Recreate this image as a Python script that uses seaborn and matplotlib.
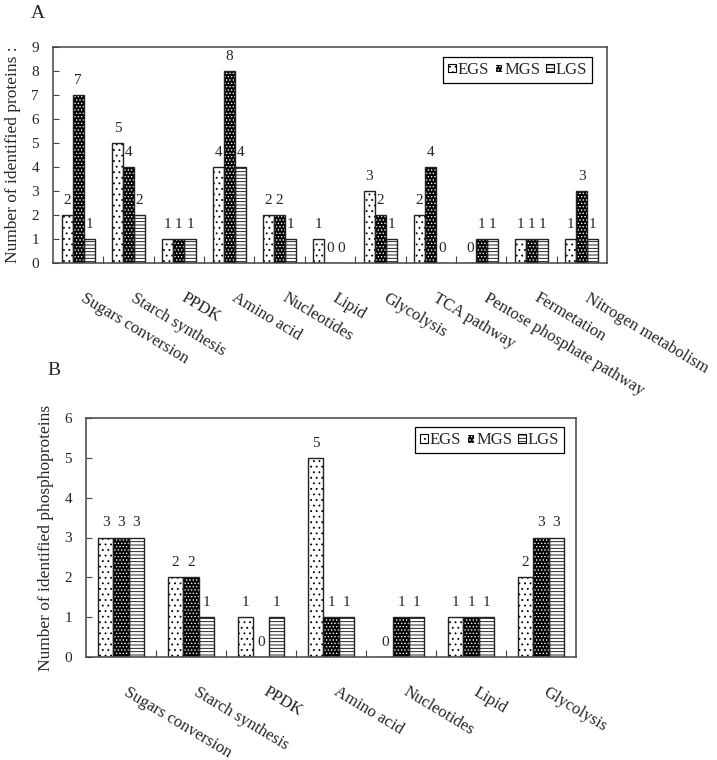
import matplotlib
matplotlib.use('Agg')
import matplotlib.pyplot as plt
import seaborn as sns
import pandas as pd
from matplotlib.patches import Patch, Rectangle
from matplotlib.transforms import ScaledTranslation

stages = ['EGS', 'MGS', 'LGS']

cats_a = ['Sugars conversion', 'Starch synthesis', 'PPDK', 'Amino acid', 'Nucleotides',
          'Lipid', 'Glycolysis', 'TCA pathway', 'Pentose phosphate pathway',
          'Fermetation', 'Nitrogen metabolism']
egs_a = [2, 5, 1, 4, 2, 1, 3, 2, 0, 1, 1]
mgs_a = [7, 4, 1, 8, 2, 0, 2, 4, 1, 1, 3]
lgs_a = [1, 2, 1, 4, 1, 0, 1, 0, 1, 1, 1]
yticks_a = [0, 1, 2, 3, 4, 5, 6, 7, 8, 9]
ylabel_a = 'Number of identified proteins :'

cats_b = ['Sugars conversion', 'Starch synthesis', 'PPDK', 'Amino acid', 'Nucleotides',
          'Lipid', 'Glycolysis']
egs_b = [3, 2, 1, 5, 0, 1, 2]
mgs_b = [3, 2, 0, 1, 1, 1, 3]
lgs_b = [3, 1, 1, 1, 1, 1, 3]
yticks_b = [0, 1, 2, 3, 4, 5, 6]
ylabel_b = 'Number of identified phosphoproteins'

sns.set_theme(style='white')
plt.rcParams['font.family'] = ['Liberation Serif', 'DejaVu Serif']
plt.rcParams['hatch.linewidth'] = 0.6

SPINE = '#444444'
STYLE = {
    'EGS': dict(face='white', hatch='...', hcol='black'),
    'MGS': dict(face='black', hatch='.....', hcol='white'),
    'LGS': dict(face='white', hatch='-----', hcol='black'),
}

fig = plt.figure(figsize=(7.17, 7.6), dpi=100)
ax_a = fig.add_axes([53 / 717, 1 - 263 / 760, 554 / 717, 216 / 760])
ax_b = fig.add_axes([86 / 717, 1 - 657 / 760, 490 / 717, 239 / 760])


def panel(ax, cats, e, m, l, yticks, ylabel, ylab_x, leg_anchor):
    n = len(cats)
    df = pd.DataFrame({
        'cat': cats * 3,
        'stage': [s for s in stages for _ in cats],
        'val': e + m + l,
    })
    sns.barplot(data=df, x='cat', y='val', hue='stage', hue_order=stages, order=cats,
                width=0.66, ax=ax, legend=False, errorbar=None, saturation=1, gap=0)
    for cont, st in zip(ax.containers, stages):
        s = STYLE[st]
        for bar in cont:
            bar.set_facecolor(s['face'])
            bar.set_edgecolor(s['hcol'])
            bar.set_hatch(s['hatch'])
            bar.set_linewidth(0)
            ax.add_patch(Rectangle(bar.get_xy(), bar.get_width(), bar.get_height(),
                                   fill=False, edgecolor='#222222', lw=1.0, zorder=bar.get_zorder() + 0.1))
        ax.bar_label(cont, fmt='%g', padding=6, fontsize=11)
    ax.set_ylim(yticks[0], yticks[-1])
    ax.set_yticks(yticks)
    ax.set_xlim(-0.5, n - 0.5)
    ax.set_xticks(range(n))
    ax.set_xticklabels([''] * n)
    off = ScaledTranslation(8 / 100, -27 / 100, fig.dpi_scale_trans)
    for i, c in enumerate(cats):
        ax.text(i, 0, c, transform=ax.get_xaxis_transform() + off, rotation=-31,
                ha='left', va='top', rotation_mode='anchor', fontsize=12)
    ax.set_xticks([i + 0.5 for i in range(n - 1)], minor=True)
    ax.tick_params(axis='x', which='major', length=0)
    ax.tick_params(axis='x', which='minor', direction='in', length=5, width=0.8, color=SPINE, bottom=True)
    ax.tick_params(axis='y', direction='in', length=4, width=0.8, color=SPINE, pad=10, labelsize=11, left=True)
    ax.set_xlabel('')
    ax.set_ylabel(ylabel, fontsize=12.5)
    ax.yaxis.set_label_coords(ylab_x, 0.5)
    for sp in ax.spines.values():
        sp.set_color(SPINE)
        sp.set_linewidth(1.1)
        sp.set_visible(True)
    handles = []
    for st in stages:
        s = STYLE[st]
        handles.append(Patch(facecolor=s['face'], edgecolor=s['hcol'], hatch=s['hatch'], lw=0.8, label=st))
    leg = ax.legend(handles=handles, loc='upper right', bbox_to_anchor=leg_anchor, ncol=3,
                    frameon=True, fancybox=False, edgecolor='black', framealpha=1,
                    fontsize=12, handlelength=0.45, handleheight=0.45, handletextpad=0.12,
                    columnspacing=0.35, borderpad=0.3, borderaxespad=0)
    leg.get_frame().set_linewidth(0.9)


panel(ax_a, cats_a, egs_a, mgs_a, lgs_a, yticks_a, ylabel_a, -0.058, (0.973, 0.954))
panel(ax_b, cats_b, egs_b, mgs_b, lgs_b, yticks_b, ylabel_b, -0.066, (0.9755, 0.962))

fig.text(38 / 717, 1 - 13 / 760, 'A', ha='center', va='center', fontsize=14)
fig.text(54 / 717, 1 - 370 / 760, 'B', ha='center', va='center', fontsize=14)

fig.savefig('out.png', dpi=100)
